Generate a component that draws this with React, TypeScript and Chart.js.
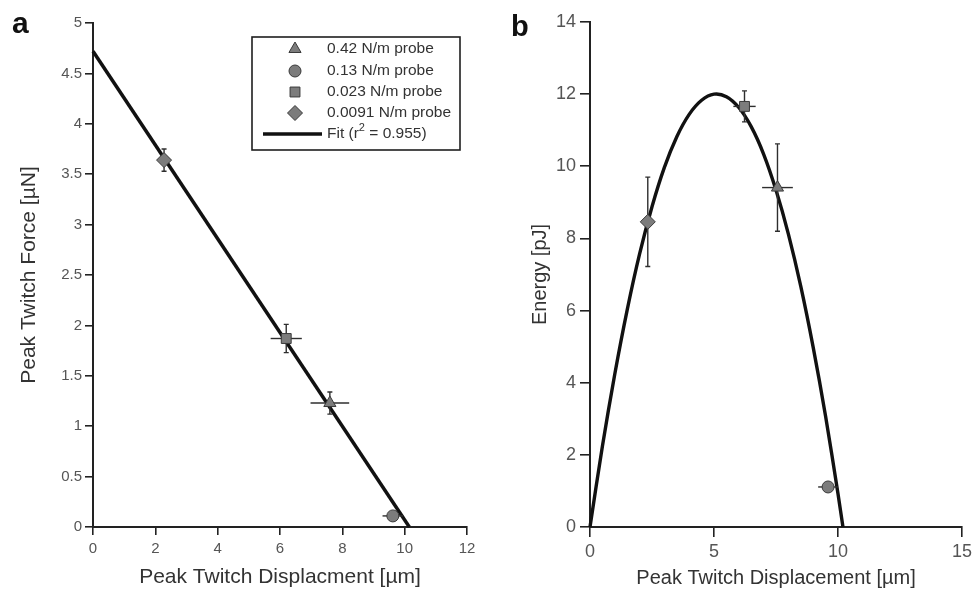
import React, { useEffect, useRef } from 'react';
import { Chart, registerables } from 'chart.js';
import { drawPoint } from 'chart.js/helpers';

Chart.register(...registerables);

// ---------- data ----------
const probeLabels = ['0.42 N/m probe', '0.13 N/m probe', '0.023 N/m probe', '0.0091 N/m probe'];
const probeStyles = ['triangle', 'circle', 'rect', 'rectRot'];
const probeRadius = [7, 6, 7, 7.5];

// panel a: peak twitch force vs displacement
const dispA = [7.6, 9.62, 6.2, 2.28];
const forceA = [1.23, 0.11, 1.87, 3.64];
const dispErrA = [0.62, 0.33, 0.5, 0.12];
const forceErrA = [0.11, 0.0, 0.14, 0.11];
const fitDispA = [0, 10.15];
const fitForceA = [4.72, 0];
const fitLabelA = 'Fit (r';
const fitLabelSup = '2';
const fitLabelEnd = ' = 0.955)';

// panel b: energy vs displacement
const dispB = [7.56, 9.6, 6.23, 2.33];
const energyB = [9.41, 1.11, 11.66, 8.46];
const dispErrB = [0.62, 0.4, 0.45, 0.1];
const energyErrB = [1.21, 0.0, 0.43, 1.24];
const curveDispB = [0, 0.5, 1, 1.5, 2, 2.5, 3, 3.5, 4, 4.5, 5, 5.5, 6, 6.5, 7, 7.5, 8, 8.5, 9, 9.5, 10, 10.2];
const curveEnergyB = [0, 2.24, 4.24, 6.02, 7.57, 8.88, 9.97, 10.82, 11.44, 11.83, 12.0, 11.93, 11.63, 11.1, 10.34, 9.34, 8.12, 6.67, 4.98, 3.07, 0.92, 0];

// axes
const xMinA = 0, xMaxA = 12, xStepA = 2;
const yMinA = 0, yMaxA = 5, yStepA = 0.5;
const xMinB = 0, xMaxB = 15, xStepB = 5;
const yMinB = 0, yMaxB = 14, yStepB = 2;

const FONT = "'Liberation Sans', Arial, sans-serif";
const MARK_FILL = '#7c7c7c';
const MARK_EDGE = '#3a3a3a';

function makeErrorBarPlugin(xs: number[], ys: number[], xe: number[], ye: number[], lineIndex: number) {
  return {
    id: 'errorBars',
    afterDatasetDraw(chart: any, args: any) {
      if (args.index !== lineIndex) return;
      const { ctx } = chart;
      const sx = chart.scales.x;
      const sy = chart.scales.y;
      ctx.save();
      ctx.strokeStyle = '#2e2e2e';
      ctx.lineWidth = 1.4;
      xs.forEach((xv, i) => {
        const yv = ys[i];
        const px = sx.getPixelForValue(xv);
        const py = sy.getPixelForValue(yv);
        if (xe[i] > 0) {
          const l = sx.getPixelForValue(xv - xe[i]);
          const r = sx.getPixelForValue(xv + xe[i]);
          ctx.beginPath();
          ctx.moveTo(l, py);
          ctx.lineTo(r, py);
          ctx.stroke();
        }
        if (ye[i] > 0) {
          const t = sy.getPixelForValue(yv + ye[i]);
          const b = sy.getPixelForValue(yv - ye[i]);
          ctx.beginPath();
          ctx.moveTo(px, t);
          ctx.lineTo(px, b);
          ctx.moveTo(px - 2.5, t);
          ctx.lineTo(px + 2.5, t);
          ctx.moveTo(px - 2.5, b);
          ctx.lineTo(px + 2.5, b);
          ctx.stroke();
        }
      });
      ctx.restore();
    },
  };
}

const legendPlugin = {
  id: 'probeLegend',
  afterDraw(chart: any) {
    const ctx = chart.ctx;
    const bx = 252, by = 37, bw = 208, bh = 113;
    ctx.save();
    ctx.fillStyle = '#fff';
    ctx.fillRect(bx, by, bw, bh);
    ctx.strokeStyle = '#1e1e1e';
    ctx.lineWidth = 1.6;
    ctx.strokeRect(bx, by, bw, bh);
    const rows = [49, 71, 92, 113, 134];
    ctx.font = `15.5px ${FONT}`;
    ctx.textBaseline = 'middle';
    probeLabels.forEach((lab, i) => {
      ctx.fillStyle = MARK_FILL;
      ctx.strokeStyle = MARK_EDGE;
      ctx.lineWidth = 1;
      drawPoint(ctx, { pointStyle: probeStyles[i], radius: probeRadius[i], borderWidth: 1, rotation: 0 } as any, 295, rows[i]);
      ctx.fillStyle = '#333';
      ctx.fillText(lab, 327, rows[i]);
    });
    const fy = rows[4];
    ctx.strokeStyle = '#111';
    ctx.lineWidth = 3.5;
    ctx.beginPath();
    ctx.moveTo(263, fy);
    ctx.lineTo(322, fy);
    ctx.stroke();
    ctx.fillStyle = '#333';
    let tx = 327;
    ctx.fillText(fitLabelA, tx, fy);
    tx += ctx.measureText(fitLabelA).width;
    ctx.font = `11px ${FONT}`;
    ctx.fillText(fitLabelSup, tx, fy - 6);
    tx += ctx.measureText(fitLabelSup).width;
    ctx.font = `15.5px ${FONT}`;
    ctx.fillText(fitLabelEnd, tx, fy);
    ctx.restore();
  },
};

function axis(
  min: number, max: number, step: number, title: string, size: number, titlePad: any,
  fontSize: number, titleSize: number, tickLen: number, tickPad: number, isX: boolean,
) {
  return {
    type: 'linear',
    min,
    max,
    ticks: {
      stepSize: step,
      color: '#555',
      font: { family: FONT, size: fontSize },
      padding: tickPad,
      autoSkip: false,
      maxRotation: 0,
      callback: (v: any) => String(Math.round(Number(v) * 100) / 100),
    },
    grid: {
      display: true,
      drawOnChartArea: false,
      drawTicks: true,
      tickLength: tickLen,
      color: '#222',
      lineWidth: 1.6,
    },
    border: { display: true, color: '#222', width: 2 },
    title: {
      display: true,
      text: title,
      color: '#333',
      font: { family: FONT, size: titleSize },
      padding: titlePad,
    },
    afterFit: (s: any) => {
      if (isX) s.height = size;
      else s.width = size;
    },
  };
}

function PanelA() {
  const ref = useRef<HTMLCanvasElement>(null);
  useEffect(() => {
    const datasets: any[] = probeLabels.map((lab, i) => ({
      label: lab,
      data: [{ x: dispA[i], y: forceA[i] }],
      pointStyle: probeStyles[i],
      pointRadius: probeRadius[i],
      backgroundColor: MARK_FILL,
      borderColor: MARK_EDGE,
      borderWidth: 1,
      order: 0,
    }));
    datasets.push({
      label: 'Fit',
      data: fitDispA.map((x, i) => ({ x, y: fitForceA[i] })),
      showLine: true,
      borderColor: '#111',
      borderWidth: 3.5,
      pointRadius: 0,
      order: 10,
      clip: 4,
    });
    const chart = new Chart(ref.current!, {
      type: 'scatter',
      data: { datasets },
      options: {
        animation: false,
        responsive: false,
        devicePixelRatio: 1,
        layout: { padding: { left: 0, right: 21, top: 23, bottom: 0 } },
        plugins: { legend: { display: false }, tooltip: { enabled: false } },
        scales: {
          x: axis(xMinA, xMaxA, xStepA, 'Peak Twitch Displacment [µm]', 64, { top: 0, bottom: 1 }, 15, 21, 8, 5, true),
          y: axis(yMinA, yMaxA, yStepA, 'Peak Twitch Force [µN]', 93, { top: 17, bottom: 0 }, 15, 21, 8, 3, false),
        } as any,
      },
      plugins: [makeErrorBarPlugin(dispA, forceA, dispErrA, forceErrA, 4), legendPlugin],
    });
    return () => chart.destroy();
  }, []);
  return <canvas ref={ref} width={488} height={591} style={{ position: 'absolute', left: 0, top: 0 }} />;
}

function PanelB() {
  const ref = useRef<HTMLCanvasElement>(null);
  useEffect(() => {
    const datasets: any[] = probeLabels.map((lab, i) => ({
      label: lab,
      data: [{ x: dispB[i], y: energyB[i] }],
      pointStyle: probeStyles[i],
      pointRadius: probeRadius[i],
      backgroundColor: MARK_FILL,
      borderColor: MARK_EDGE,
      borderWidth: 1,
      order: 0,
    }));
    datasets.push({
      label: 'Fit',
      data: curveDispB.map((x, i) => ({ x, y: curveEnergyB[i] })),
      showLine: true,
      borderColor: '#111',
      borderWidth: 3.4,
      pointRadius: 0,
      tension: 0.3,
      order: 10,
      clip: 4,
    });
    const chart = new Chart(ref.current!, {
      type: 'scatter',
      data: { datasets },
      options: {
        animation: false,
        responsive: false,
        devicePixelRatio: 1,
        layout: { padding: { left: 0, right: 13, top: 22, bottom: 0 } },
        plugins: { legend: { display: false }, tooltip: { enabled: false } },
        scales: {
          x: axis(xMinB, xMaxB, xStepB, 'Peak Twitch Displacement [µm]', 64, { top: 0, bottom: 1 }, 18, 20, 10, 4, true),
          y: axis(yMinB, yMaxB, yStepB, 'Energy [pJ]', 102, { top: 40, bottom: 0 }, 18, 20, 10, 4, false),
        } as any,
      },
      plugins: [makeErrorBarPlugin(dispB, energyB, dispErrB, energyErrB, 4)],
    });
    return () => chart.destroy();
  }, []);
  return <canvas ref={ref} width={488} height={591} style={{ position: 'absolute', left: 488, top: 0 }} />;
}

export default function App() {
  const letter: React.CSSProperties = {
    position: 'absolute',
    fontFamily: FONT,
    fontWeight: 'bold',
    color: '#111',
    lineHeight: 1,
  };
  return (
    <div style={{ position: 'fixed', left: 0, top: 0, width: 976, height: 591, background: '#fff', overflow: 'hidden' }}>
      <PanelA />
      <PanelB />
      <div style={{ ...letter, fontSize: 30, left: 12, top: 8 }}>a</div>
      <div style={{ ...letter, fontSize: 29, left: 511, top: 12 }}>b</div>
    </div>
  );
}
